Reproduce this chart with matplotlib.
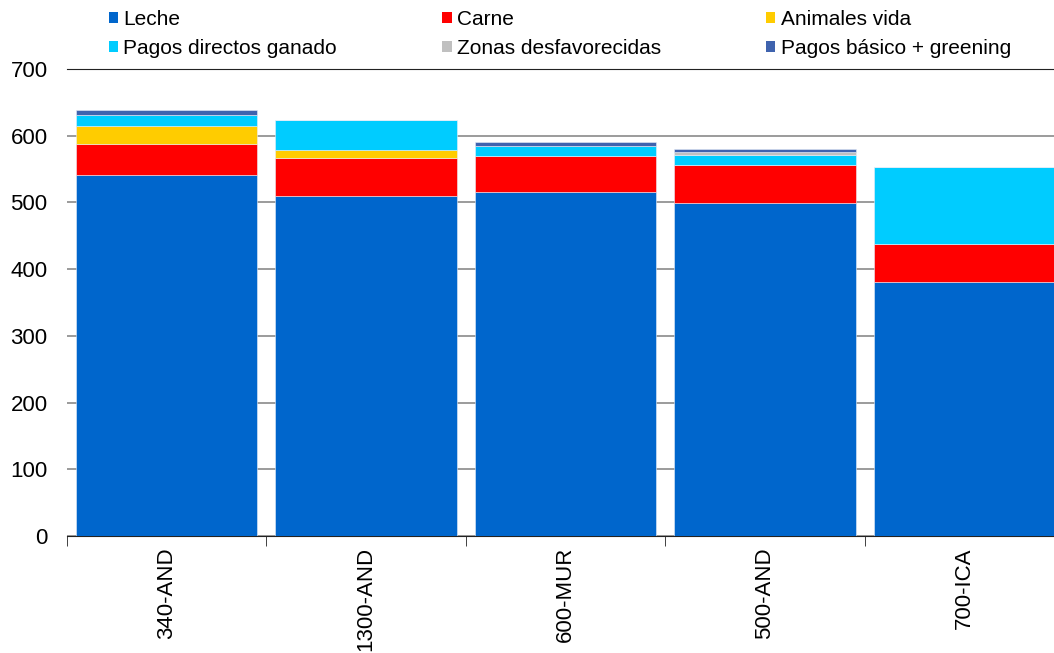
import numpy as np
import matplotlib
matplotlib.use("Agg")
import matplotlib.pyplot as plt
from matplotlib.patches import Patch

plt.rcParams["font.family"] = ["Liberation Sans", "DejaVu Sans"]

regions = ["340-AND", "1300-AND", "600-MUR", "500-AND", "700-ICA"]
series = ["Leche", "Carne", "Animales vida", "Pagos directos ganado",
          "Zonas desfavorecidas", "Pagos básico + greening"]
leche = [541, 510, 515, 499, 381]
carne = [47, 57, 55, 57, 57]
animales = [27, 12, 0, 0, 0]
pagos_directos = [16, 45, 15, 15, 115]
zonas = [0, 0, 0, 4, 0]
pagos_basico = [7, 0, 6, 5, 0]
colors = ["#0066CC", "#FF0000", "#FFCC00", "#00CCFF", "#C0C0C0", "#3F63AE"]

values = [leche, carne, animales, pagos_directos, zonas, pagos_basico]

fig = plt.figure(figsize=(10.54, 6.53), dpi=100)
ax = fig.add_axes([67 / 1054, 117 / 653, 997 / 1054, 467 / 653])

x = np.arange(len(regions))
bottom = np.zeros(len(regions))
for vals, col in zip(values, colors):
    ax.bar(x, vals, bottom=bottom, width=0.91, color=col,
           edgecolor="#e8eef8", linewidth=0.4, zorder=3)
    bottom += np.array(vals)

ax.set_xlim(-0.5, len(regions) - 0.5)
ax.set_ylim(0, 700)
ax.set_yticks(range(0, 701, 100))
ax.yaxis.grid(True, color="#8a8a8a", linewidth=1.2, zorder=0)
ax.tick_params(axis="y", labelsize=16, length=0, pad=14)

ax.set_xticks(x)
ax.set_xticklabels(regions, rotation=90, fontsize=16)
ax.tick_params(axis="x", length=0, pad=8)
ax.set_xticks(np.arange(-0.5, len(regions)), minor=True)
ax.tick_params(axis="x", which="minor", length=7, color="#222222")

for s in ["left", "right"]:
    ax.spines[s].set_visible(False)
ax.spines["top"].set_color("#222222")
ax.spines["bottom"].set_color("#222222")

# legend is filled column by column, so reorder to read row by row
order = [0, 3, 1, 4, 2, 5]
handles = [Patch(facecolor=colors[i], edgecolor="none") for i in order]
labels = [series[i] for i in order]
fig.legend(handles, labels, ncol=3, loc="upper left",
           bbox_to_anchor=(90 / 1054, 1.014), frameon=False, fontsize=15,
           handlelength=0.45, handleheight=0.45, handletextpad=0.25,
           columnspacing=5.05, labelspacing=0.5)

fig.savefig("out.png", dpi=100)
